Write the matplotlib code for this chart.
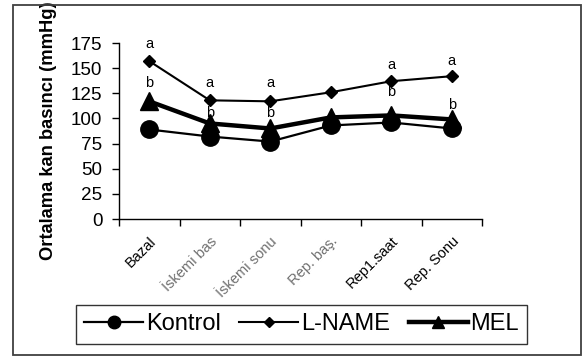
import numpy as np
import matplotlib.pyplot as plt
from matplotlib.patches import Rectangle

plt.rcParams['font.family'] = ['Liberation Sans', 'DejaVu Sans']

# data
categories = ["Bazal", "İskemi bas", "İskemi sonu", "Rep. baş.", "Rep1.saat", "Rep. Sonu"]
label_colors = ["black", "#707070", "#707070", "#707070", "black", "black"]
kontrol = [89, 82, 77, 93, 96, 90]
lname = [157, 118, 117, 126, 137, 142]
mel = [117, 95, 90, 101, 103, 99]

# significance letters (category index, y)
letters_a = [(0, 174), (1, 135), (2, 135), (4, 153), (5, 157)]
letters_b = [(0, 135), (1, 105), (2, 105), (4, 126), (5, 113)]

fig = plt.figure(figsize=(5.86, 3.61), dpi=100)
ax = fig.add_axes([119/586, 1-219/361, 363/586, 176/361])

x = np.arange(len(categories))
ax.plot(x, kontrol, color="black", lw=1.6, marker="o", ms=12.5, label="Kontrol")
ax.plot(x, lname, color="black", lw=1.5, marker="D", ms=6.5, label="L-NAME")
ax.plot(x, mel, color="black", lw=3.2, marker="^", ms=12.5, label="MEL")

for i, y in letters_a:
    ax.text(i, y, "a", ha="center", va="center", fontsize=10.5)
for i, y in letters_b:
    ax.text(i, y, "b", ha="center", va="center", fontsize=10.5)

ax.set_xlim(-0.5, len(categories) - 0.5)
ax.set_ylim(0, 175)
ax.set_yticks(range(0, 176, 25))
ax.tick_params(axis="y", labelsize=13.6, length=5, width=1, direction="out", pad=7)

ax.set_xticks(x)
ax.set_xticklabels(categories, rotation=45, ha="right", rotation_mode="anchor", fontsize=10.5)
for lab, c in zip(ax.get_xticklabels(), label_colors):
    lab.set_color(c)
ax.tick_params(axis="x", which="major", length=0, pad=11)
ax.set_xticks(np.arange(-0.5, len(categories), 1), minor=True)
ax.tick_params(axis="x", which="minor", length=5, width=1, direction="out")

for s in ["top", "right"]:
    ax.spines[s].set_visible(False)
for s in ["left", "bottom"]:
    ax.spines[s].set_linewidth(1)

ax.set_ylabel("Ortalama kan basıncı (mmHg)", fontsize=13.2, fontweight="bold", labelpad=10)

leg = ax.legend(loc="center", bbox_to_anchor=(301.5/586, 1-324.5/361), bbox_transform=fig.transFigure,
                ncol=3, fontsize=17, frameon=True, fancybox=False, edgecolor="black",
                handlelength=2.5, handletextpad=0.1, columnspacing=0.8, borderpad=0.35,
                borderaxespad=0, markerscale=0.72)
leg.get_frame().set_linewidth(1)

fig.patches.append(Rectangle((13/586, 1-355/361), 568/586, 350/361, transform=fig.transFigure,
                             fill=False, edgecolor="#404040", lw=1.3))

fig.savefig("out.png", dpi=100)
